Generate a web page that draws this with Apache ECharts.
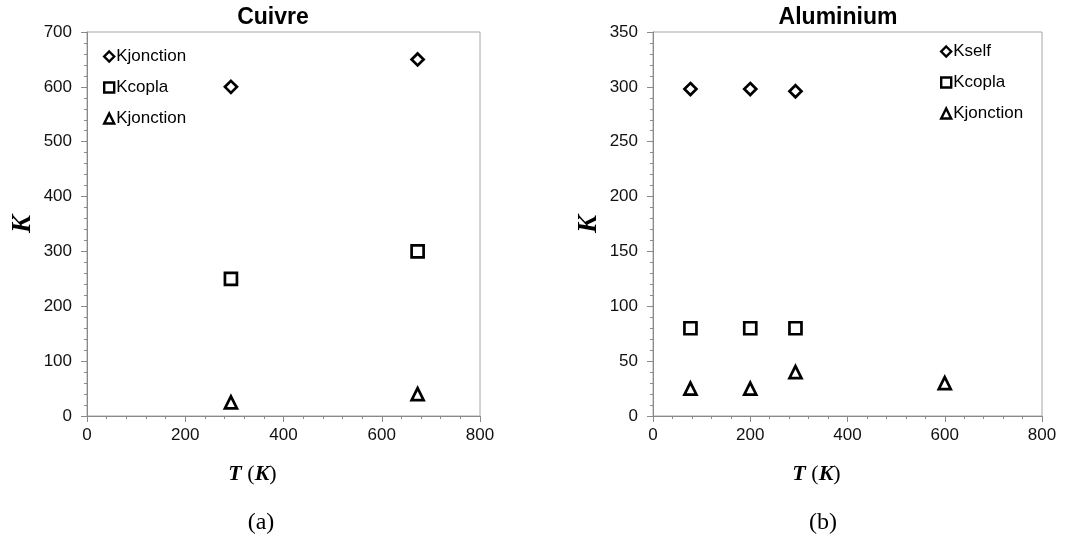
<!DOCTYPE html>
<html><head><meta charset="utf-8">
<script src="https://cdn.jsdelivr.net/npm/echarts@6/dist/echarts.min.js"></script>
<style>html,body{margin:0;padding:0;background:#fff}#c{width:1067px;height:545px}</style>
</head><body><div id="c"></div>
<script>
// ---- data ----
const titles = ['Cuivre', 'Aluminium'];
const captions = ['(a)', '(b)'];
const cuTemp = [293, 673];
const cuKjonctionDiamond = [600, 650];
const cuKcopla = [250, 300];
const cuKjonctionTriangle = [25, 40];
const alTemp = [77, 200, 293];
const alKself = [298, 298, 296];
const alKcopla = [80, 80, 80];
const alTempJonction = [77, 200, 293, 600];
const alKjonction = [25, 25, 40, 30];
const legendNamesA = ['Kjonction', 'Kcopla', 'Kjonction'];
const legendNamesB = ['Kself', 'Kcopla', 'Kjonction'];
const xRange = [0, 800, 200];
const yRangeA = [0, 700, 100];
const yRangeB = [0, 350, 50];

// ---- helpers ----
const zip = (xs, ys) => xs.map((x, i) => [x, ys[i]]);
const symbols = ['diamond', 'rect', 'triangle'];
const idsA = legendNamesA.map((n, i) => n + '#a' + i);
const idsB = legendNamesB.map((n, i) => n + '#b' + i);
const dataA = [zip(cuTemp, cuKjonctionDiamond), zip(cuTemp, cuKcopla), zip(cuTemp, cuKjonctionTriangle)];
const dataB = [zip(alTemp, alKself), zip(alTemp, alKcopla), zip(alTempJonction, alKjonction)];

const tickFont = { fontFamily: 'Liberation Sans, Arial, sans-serif', fontSize: 17, color: '#111' };
const axisGrey = '#8a8a8a';

function xAxis(gi) {
  return {
    type: 'value', gridIndex: gi, min: xRange[0], max: xRange[1], interval: xRange[2],
    axisLine: { show: true, onZero: false, lineStyle: { color: axisGrey, width: 1 } },
    axisTick: { show: true, length: 6, lineStyle: { color: axisGrey } },
    minorTick: { show: true, splitNumber: 5, length: 3, lineStyle: { color: axisGrey } },
    splitLine: { show: false },
    axisLabel: Object.assign({ margin: 11 }, tickFont),
    name: '{b|T} ({b|K})', nameLocation: 'middle', nameGap: 47,
    nameTextStyle: {
      fontFamily: 'Liberation Serif, serif', fontSize: 22, color: '#000',
      padding: [0, 62, 0, 0],
      rich: { b: { fontFamily: 'Liberation Serif, serif', fontSize: 22, fontWeight: 'bold', fontStyle: 'italic', color: '#000' } }
    }
  };
}
function yAxis(gi, r) {
  return {
    type: 'value', gridIndex: gi, min: r[0], max: r[1], interval: r[2],
    axisLine: { show: true, lineStyle: { color: axisGrey, width: 1 } },
    axisTick: { show: true, length: 6, lineStyle: { color: axisGrey } },
    minorTick: { show: true, splitNumber: 5, length: 3, lineStyle: { color: axisGrey } },
    splitLine: { show: false },
    axisLabel: Object.assign({ margin: 15 }, tickFont),
    name: 'K', nameLocation: 'middle', nameGap: 50,
    nameTextStyle: { fontFamily: 'Liberation Serif, serif', fontSize: 27, fontWeight: 'bold', fontStyle: 'italic', color: '#000' }
  };
}
function series(ids, datas, gi) {
  return ids.map((id, i) => ({
    type: 'scatter', name: id, xAxisIndex: gi, yAxisIndex: gi,
    symbol: symbols[i], symbolSize: 12,
    itemStyle: { color: '#fff', borderColor: '#000', borderWidth: 2.7, opacity: 1 },
    emphasis: { disabled: true },
    data: datas[i]
  }));
}
function legend(ids, left, top) {
  return {
    data: ids.map((id, i) => ({ name: id, icon: symbols[i] })),
    orient: 'vertical', left: left, top: top, padding: 0,
    itemWidth: 10, itemHeight: 10, itemGap: 14,
    itemStyle: { color: '#fff', borderColor: '#000', borderWidth: 2.4 },
    textStyle: { fontFamily: 'Liberation Sans, Arial, sans-serif', fontSize: 17, color: '#000', padding: [0, 0, 0, -3] },
    formatter: n => n.replace(/#.*$/, ''),
    selectedMode: false
  };
}

const chart = echarts.init(document.getElementById('c'), null, { renderer: 'canvas' });
chart.setOption({
  backgroundColor: '#fff',
  animation: false,
  title: [
    { text: titles[0], left: 268, top: 1, textAlign: 'center', textStyle: { fontFamily: 'Liberation Sans, Arial, sans-serif', fontSize: 23, fontWeight: 'bold', color: '#000' } },
    { text: titles[1], left: 833, top: 1, textAlign: 'center', textStyle: { fontFamily: 'Liberation Sans, Arial, sans-serif', fontSize: 23, fontWeight: 'bold', color: '#000' } },
    { text: captions[0], left: 256, top: 506, textAlign: 'center', textStyle: { fontFamily: 'Liberation Serif, serif', fontSize: 24, fontWeight: 'normal', color: '#000' } },
    { text: captions[1], left: 818, top: 506, textAlign: 'center', textStyle: { fontFamily: 'Liberation Serif, serif', fontSize: 24, fontWeight: 'normal', color: '#000' } }
  ],
  grid: [
    { left: 87, top: 32, width: 393, height: 384, show: true, borderColor: '#a6a6a6', borderWidth: 1, backgroundColor: 'transparent', containLabel: false },
    { left: 653, top: 32, width: 389, height: 384, show: true, borderColor: '#a6a6a6', borderWidth: 1, backgroundColor: 'transparent', containLabel: false }
  ],
  xAxis: [xAxis(0), xAxis(1)],
  yAxis: [yAxis(0, yRangeA), yAxis(1, yRangeB)],
  legend: [legend(idsA, 103, 48), legend(idsB, 940, 43)],
  series: series(idsA, dataA, 0).concat(series(idsB, dataB, 1))
});
</script>
</body></html>
